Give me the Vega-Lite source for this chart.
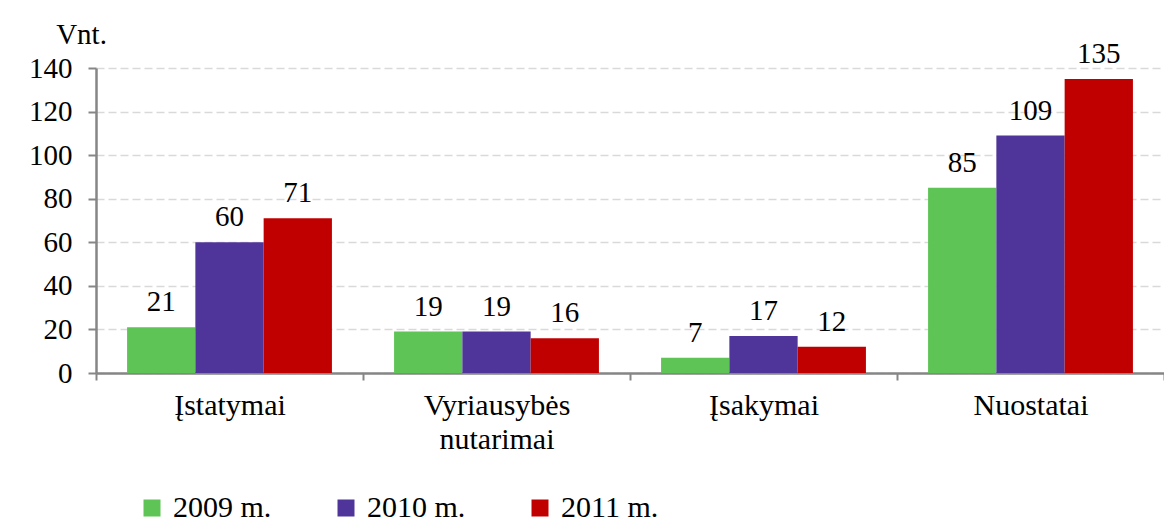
{
  "$schema": "https://vega.github.io/schema/vega-lite/v6.json",
  "width": 1068,
  "height": 305,
  "autosize": {"type": "none"},
  "padding": {"left": 96, "top": 68, "right": 0, "bottom": 149},
  "background": "white",
  "config": {
    "view": {"stroke": null},
    "font": "Liberation Serif",
    "text": {"font": "Liberation Serif"},
    "axis": {"labelFont": "Liberation Serif", "titleFont": "Liberation Serif"},
    "legend": {"labelFont": "Liberation Serif", "titleFont": "Liberation Serif"}
  },
  "data": {
    "values": [
      {"kategorija": "Įstatymai", "metai": "2009 m.", "vnt": 21},
      {"kategorija": "Įstatymai", "metai": "2010 m.", "vnt": 60},
      {"kategorija": "Įstatymai", "metai": "2011 m.", "vnt": 71},
      {"kategorija": "Vyriausybės nutarimai", "metai": "2009 m.", "vnt": 19},
      {"kategorija": "Vyriausybės nutarimai", "metai": "2010 m.", "vnt": 19},
      {"kategorija": "Vyriausybės nutarimai", "metai": "2011 m.", "vnt": 16},
      {"kategorija": "Įsakymai", "metai": "2009 m.", "vnt": 7},
      {"kategorija": "Įsakymai", "metai": "2010 m.", "vnt": 17},
      {"kategorija": "Įsakymai", "metai": "2011 m.", "vnt": 12},
      {"kategorija": "Nuostatai", "metai": "2009 m.", "vnt": 85},
      {"kategorija": "Nuostatai", "metai": "2010 m.", "vnt": 109},
      {"kategorija": "Nuostatai", "metai": "2011 m.", "vnt": 135}
    ]
  },
  "encoding": {
    "x": {
      "field": "kategorija",
      "type": "nominal",
      "sort": null,
      "scale": {"paddingInner": 0, "paddingOuter": 0},
      "axis": {
        "title": null,
        "labelAngle": 0,
        "labelFontSize": 30,
        "labelColor": "black",
        "labelBaseline": "top",
        "labelLineHeight": 34,
        "labelPadding": 10,
        "labelExpr": "datum.value == 'Vyriausybės nutarimai' ? ['Vyriausybės', 'nutarimai'] : datum.label",
        "tickBand": "extent",
        "tickSize": 7,
        "tickColor": "#868686",
        "tickWidth": 2,
        "domainColor": "#868686",
        "domainWidth": 2.5,
        "grid": false
      }
    },
    "xOffset": {
      "field": "metai",
      "type": "nominal",
      "sort": ["2009 m.", "2010 m.", "2011 m."],
      "scale": {"paddingInner": 0, "paddingOuter": 0.455}
    },
    "y": {
      "field": "vnt",
      "type": "quantitative",
      "scale": {"domain": [0, 140], "nice": false},
      "axis": {
        "values": [0, 20, 40, 60, 80, 100, 120, 140],
        "title": "Vnt.",
        "titleAngle": 0,
        "titleFontSize": 29,
        "titleFontWeight": "normal",
        "titleColor": "black",
        "titleAlign": "center",
        "titleBaseline": "alphabetic",
        "titleX": -15,
        "titleY": -25,
        "labelFontSize": 29,
        "labelColor": "black",
        "labelPadding": 16,
        "tickSize": 8,
        "tickColor": "#868686",
        "tickWidth": 2,
        "domainColor": "#868686",
        "domainWidth": 2.5,
        "grid": true,
        "gridColor": "#d9d9d9",
        "gridDash": [8, 4],
        "gridWidth": 1.5
      }
    },
    "color": {
      "field": "metai",
      "type": "nominal",
      "scale": {"domain": ["2009 m.", "2010 m.", "2011 m."], "range": ["#5ec455", "#4f3599", "#c00000"]},
      "legend": {
        "title": null,
        "orient": "none",
        "direction": "horizontal",
        "legendX": 41,
        "legendY": 425,
        "padding": 0,
        "symbolType": "square",
        "symbolSize": 289,
        "symbolStrokeWidth": 0,
        "symbolOpacity": 1,
        "labelFontSize": 30,
        "labelColor": "black",
        "labelOffset": 6,
        "columnPadding": 59
      }
    }
  },
  "layer": [
    {"mark": {"type": "bar", "opacity": 1}},
    {
      "mark": {"type": "text", "baseline": "alphabetic", "dy": -16, "fontSize": 29, "color": "black", "font": "Liberation Serif"},
      "encoding": {"text": {"field": "vnt", "type": "quantitative"}, "color": {"value": "black"}}
    }
  ]
}
